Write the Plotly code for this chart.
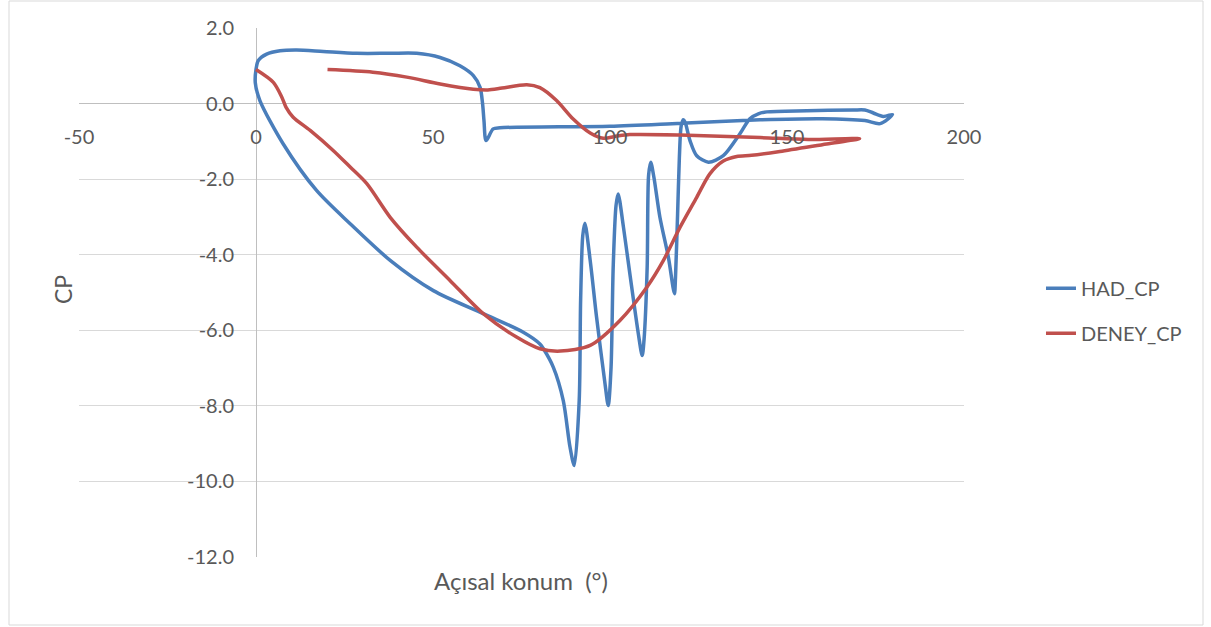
import plotly.graph_objects as go

# HAD_CP (closed path)
had_x = [0, 0.65, 3.0, 6.8, 11.5, 19, 28.4, 37.9, 45.4, 52, 57.6, 61.4, 63.3, 64.0, 64.4, 65.0, 67.0, 68.9,
         100, 120, 142.4, 160, 172, 176.3, 179.8, 177.2, 174.4, 172, 168.7, 155.6, 144.3, 141.9, 139.5,
         136.7, 132, 127.8, 124.5, 122.6, 121.2, 120.7, 120.1, 119.6, 119.1, 118.5, 118.2, 116.5, 114.1,
         112.4, 111.5, 110.9, 110.5, 109.6, 109.1, 108.0, 105.6, 103.8, 102.3, 101.7, 100.9, 100.3, 99.5,
         98.6, 96.2, 94.4, 92.9, 92.3, 91.7, 91.3, 89.9, 88.7, 86.8, 84.0, 81.2, 80.2, 75.5, 64.2, 50.1,
         37.9, 26.6, 17.1, 7.7, 1.1, -0.2, 0]
had_y = [0.9, 1.14, 1.31, 1.40, 1.42, 1.38, 1.33, 1.33, 1.33, 1.22, 1.0, 0.74, 0.43, 0.0, -0.45, -0.98, -0.67, -0.64,
         -0.60, -0.52, -0.43, -0.40, -0.45, -0.53, -0.29, -0.34, -0.25, -0.17, -0.17, -0.19, -0.22, -0.27, -0.4,
         -0.8, -1.38, -1.55, -1.38, -0.98, -0.49, -0.43, -0.6, -1.42, -2.92, -4.6, -5.03, -4.07, -3.01,
         -1.95, -1.55, -1.9, -4.33, -6.27, -6.67, -6.09, -4.5, -3.27, -2.39, -2.7, -4.33, -6.98, -7.99,
         -7.42, -5.65, -4.15, -3.17, -3.5, -5.21, -7.86, -9.58, -9.09, -7.86, -6.98, -6.49, -6.36, -6.05, -5.56, -4.95,
         -4.15, -3.18, -2.30, -1.07, 0.08, 0.55, 0.9]

# DENEY_CP
deney_x = [20.2, 33, 42.6, 52, 61.4, 65.5, 69.5, 76.5, 80.2, 84.9, 89.6, 94.4, 98.1, 102, 105.6, 119.8, 142.4,
           156, 170.5, 161.2, 148, 140, 135.8, 132, 128.2, 124.5, 119.8, 115.1, 110.4, 102.8, 94.4, 86, 80.2,
           73.6, 64.2, 54.8, 45.4, 37.9, 31.3, 26.6, 21.8, 15.3, 10.5, 8.5, 7.3, 4.9, 0]
deney_y = [0.9, 0.83, 0.70, 0.52, 0.38, 0.36, 0.41, 0.50, 0.42, 0.08, -0.41, -0.78, -0.92, -0.86, -0.82, -0.83, -0.90,
           -0.95, -0.93, -1.07, -1.27, -1.37, -1.40, -1.52, -1.86, -2.48, -3.27, -4.15, -4.86, -5.74, -6.4, -6.55, -6.49,
           -6.18, -5.56, -4.68, -3.80, -3.01, -2.12, -1.68, -1.24, -0.71, -0.36, -0.1, 0.17, 0.56, 0.9]

x_ticks = [-50, 0, 50, 100, 150, 200]
y_ticks = [-12, -10, -8, -6, -4, -2, 0, 2]

FONT = "Lato"
TXT = "#595959"
BLUE = "#4a7ebb"
RED = "#c0504d"

fig = go.Figure()
fig.add_trace(go.Scatter(x=had_x, y=had_y, mode="lines", name="HAD_CP", legendgroup="a",
                         line=dict(color=BLUE, width=3.5, shape="spline", smoothing=0.8)))
fig.add_trace(go.Scatter(x=deney_x, y=deney_y, mode="lines", name="DENEY_CP", legendgroup="b",
                         line=dict(color=RED, width=3.5, shape="spline", smoothing=0.8)))

fig.update_layout(
    width=1211, height=627,
    margin=dict(l=79, r=247, t=28, b=70),
    paper_bgcolor="white", plot_bgcolor="white",
    font=dict(family=FONT, size=20, color=TXT),
    showlegend=True,
    legend=dict(x=1.087, y=0.545, xanchor="left", yanchor="top", tracegroupgap=16,
                font=dict(size=20, color=TXT), bgcolor="rgba(0,0,0,0)"),
    xaxis=dict(range=[-50, 200], tickvals=x_ticks, ticktext=[str(v) for v in x_ticks],
               showgrid=False, zeroline=True, zerolinecolor="#bfbfbf", zerolinewidth=1.3,
               anchor="free", position=12/14, ticks="outside", ticklen=15,
               tickcolor="rgba(0,0,0,0)", showline=False, tickfont=dict(size=20)),
    yaxis=dict(range=[-12, 2], tickvals=y_ticks, ticktext=[f"{v:.1f}" for v in y_ticks],
               showgrid=True, gridcolor="#d9d9d9", gridwidth=1,
               zeroline=True, zerolinecolor="#bfbfbf", zerolinewidth=1.3,
               anchor="free", position=0.2, ticks="outside", ticklen=18,
               tickcolor="rgba(0,0,0,0)", showline=False, tickfont=dict(size=20)),
    annotations=[
        dict(text="CP", xref="paper", yref="paper", x=(63 - 79) / 885, y=(557 - 290) / 529,
             xanchor="center", yanchor="middle",
             showarrow=False, textangle=-90, font=dict(size=23, color=TXT)),
        dict(text="Açısal konum\u00a0\u00a0(°)", xref="paper", yref="paper", x=(521 - 79) / 885,
             y=(557 - 580) / 529, xanchor="center", yanchor="middle",
             showarrow=False, font=dict(size=24, color=TXT)),
    ],
    shapes=[dict(type="rect", xref="paper", yref="paper",
                 x0=(9 - 79) / 885, x1=(1203 - 79) / 885,
                 y0=(557 - 625) / 529, y1=(557 - 1) / 529,
                 line=dict(color="#d9d9d9", width=1))],
)

fig.write_html("out.html")
